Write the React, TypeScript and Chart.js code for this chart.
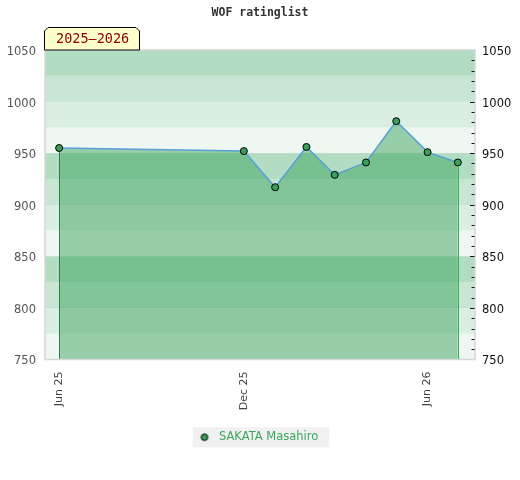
import React, { useEffect, useRef } from "react";
import { Chart, registerables } from "chart.js";

Chart.register(...registerables);

const titleText = "WOF ratinglist";
const seasonText = "2025–2026";
const playerName = "SAKATA Masahiro";
const dates = [
  "2025-06-01",
  "2025-12-01",
  "2026-01-01",
  "2026-02-01",
  "2026-03-01",
  "2026-04-01",
  "2026-05-01",
  "2026-06-01",
  "2026-07-01",
];
const ratings = [955, 952, 917, 956, 929, 941, 981, 951, 941];
const xTickDates = ["2025-06-01", "2025-12-01", "2026-06-01"];
const xTickLabels = ["Jun 25", "Dec 25", "Jun 26"];
const yMin = 750;
const yMax = 1050;

const DAY = 86400000;
const toDay = (s: string) => {
  const [y, m, d] = s.split("-").map(Number);
  return Date.UTC(y, m - 1, d) / DAY;
};

const bandColors = ["#b3ddc3", "#c9e6d4", "#dbeee2", "#eef7f1"];

function makeLegendPoint(): HTMLCanvasElement {
  const c = document.createElement("canvas");
  c.width = 20;
  c.height = 10;
  const g = c.getContext("2d")!;
  g.beginPath();
  g.arc(7, 5, 3.3, 0, Math.PI * 2);
  g.fillStyle = "#3a9f5a";
  g.fill();
  g.lineWidth = 1;
  g.strokeStyle = "#000";
  g.stroke();
  return c;
}

const decorPlugin = {
  id: "decor",
  beforeDraw(chart: any) {
    const { ctx, chartArea, scales } = chart;
    const { left, right } = chartArea;
    const y = scales.y;
    ctx.save();
    for (let v = yMin; v < yMax; v += 25) {
      const idx = ((yMax - v - 25) / 25) % 4;
      const y1 = y.getPixelForValue(v + 25);
      const y2 = y.getPixelForValue(v);
      ctx.fillStyle = bandColors[idx];
      ctx.fillRect(left, y1, right - left, y2 - y1);
    }
    const lg = chart.legend;
    if (lg && lg.legendHitBoxes && lg.legendHitBoxes.length) {
      const hb = lg.legendHitBoxes[0];
      ctx.fillStyle = "#f1f1f1";
      ctx.fillRect(hb.left - 9, hb.top + hb.height / 2 - 10, hb.width + 20, 20);
    }
    ctx.restore();
  },
  afterDatasetsDraw(chart: any) {
    const { ctx, chartArea } = chart;
    const meta = chart.getDatasetMeta(0);
    const pts = meta.data;
    ctx.save();
    if (pts.length) {
      const p0 = pts[0];
      const pn = pts[pts.length - 1];
      ctx.lineWidth = 1;
      ctx.strokeStyle = "#2f7f4c";
      ctx.beginPath();
      ctx.moveTo(Math.round(p0.x) + 0.5, p0.y + 4);
      ctx.lineTo(Math.round(p0.x) + 0.5, chartArea.bottom);
      ctx.stroke();
      ctx.strokeStyle = "#2fb24f";
      ctx.beginPath();
      ctx.moveTo(Math.round(pn.x) + 0.5, pn.y + 4);
      ctx.lineTo(Math.round(pn.x) + 0.5, chartArea.bottom);
      ctx.stroke();
    }
    ctx.restore();
  },
  afterDraw(chart: any) {
    const { ctx, chartArea, scales } = chart;
    const { left, right, top, bottom } = chartArea;
    const y = scales.y;
    ctx.save();
    ctx.strokeStyle = "#d6d6d6";
    ctx.lineWidth = 1.5;
    ctx.strokeRect(left, top, right - left, bottom - top);
    ctx.strokeStyle = "#111";
    ctx.lineWidth = 1;
    for (let v = yMin + 10; v < yMax; v += 10) {
      const py = Math.round(y.getPixelForValue(v)) + 0.5;
      const len = v % 50 === 0 ? 4.5 : 3;
      ctx.beginPath();
      ctx.moveTo(right - len - 0.5, py);
      ctx.lineTo(right - 0.5, py);
      ctx.stroke();
    }
    ctx.fillStyle = "#333";
    ctx.font = 'bold 11.5px "DejaVu Sans Mono"';
    ctx.textAlign = "center";
    ctx.textBaseline = "middle";
    ctx.fillText(titleText, 260, 13);
    const bx0 = left - 1;
    const bx1 = left + 95;
    const by0 = top - 23;
    const c = 4;
    ctx.beginPath();
    ctx.moveTo(bx0 + 0.5, top);
    ctx.lineTo(bx0 + 0.5, by0 + c);
    ctx.lineTo(bx0 + c, by0 + 0.5);
    ctx.lineTo(bx1 - c, by0 + 0.5);
    ctx.lineTo(bx1 - 0.5, by0 + c);
    ctx.lineTo(bx1 - 0.5, top);
    ctx.closePath();
    ctx.fillStyle = "#ffffcc";
    ctx.fill();
    ctx.strokeStyle = "#000";
    ctx.lineWidth = 1;
    ctx.stroke();
    ctx.fillStyle = "#8b0000";
    ctx.font = '13.5px "DejaVu Sans Mono"';
    ctx.textAlign = "left";
    ctx.fillText(seasonText, bx0 + 12, top - 10.5);
    ctx.restore();
  },
};

const plainNum = (v: any) => String(v);

export default function App() {
  const ref = useRef<HTMLCanvasElement>(null);
  useEffect(() => {
    document.body.style.margin = "0";
    const xs = dates.map(toDay);
    const xMin = xs[0] - 14;
    const xMax = xs[xs.length - 1] + 17;
    const tickVals = xTickDates.map(toDay);
    const legendPoint = makeLegendPoint();
    const chart = new Chart(ref.current!, {
      type: "line",
      data: {
        datasets: [
          {
            label: playerName,
            data: xs.map((x, i) => ({ x, y: ratings[i] })),
            borderColor: "#5a9fd8",
            borderWidth: 1.5,
            backgroundColor: "rgba(52,160,88,0.47)",
            fill: "start",
            tension: 0,
            pointRadius: 3.5,
            pointBackgroundColor: "#3a9f5a",
            pointBorderColor: "#000",
            pointBorderWidth: 1,
          },
        ],
      },
      plugins: [decorPlugin],
      options: {
        animation: false,
        responsive: false,
        layout: { padding: { top: 50, left: 0, right: 0, bottom: 27 } },
        plugins: {
          title: { display: false },
          tooltip: { enabled: false },
          legend: {
            position: "bottom",
            labels: {
              usePointStyle: true,
              boxHeight: 5,
              padding: 10,
              color: "#3aa85a",
              font: { family: '"DejaVu Sans"', size: 11.5 },
              generateLabels: () => [
                {
                  text: playerName,
                  pointStyle: legendPoint as any,
                  fillStyle: "#3a9f5a",
                  strokeStyle: "#000",
                  lineWidth: 1,
                  fontColor: "#3aa85a",
                  datasetIndex: 0,
                  hidden: false,
                },
              ],
            },
          },
        },
        scales: {
          x: {
            type: "linear",
            min: xMin,
            max: xMax,
            grid: { display: false, drawTicks: false },
            border: { display: false },
            afterBuildTicks: (scale: any) => {
              scale.ticks = tickVals.map((v) => ({ value: v }));
            },
            afterFit: (scale: any) => {
              scale.height = 62;
            },
            ticks: {
              autoSkip: false,
              minRotation: 90,
              maxRotation: 90,
              padding: 12,
              color: "#444",
              font: { family: '"DejaVu Sans"', size: 11 },
              callback: (value: any) => {
                const i = tickVals.indexOf(Number(value));
                return i >= 0 ? xTickLabels[i] : "";
              },
            },
          },
          y: {
            position: "left",
            min: yMin,
            max: yMax,
            grid: { color: "rgba(0,0,0,0.05)", drawTicks: false },
            border: { display: false },
            afterFit: (scale: any) => {
              scale.width = 45;
            },
            ticks: {
              stepSize: 50,
              padding: 9,
              labelOffset: 2,
              color: "#555",
              font: { family: '"DejaVu Sans"', size: 11.5 },
              callback: plainNum,
            },
          },
          y2: {
            position: "right",
            min: yMin,
            max: yMax,
            grid: { drawOnChartArea: false, drawTicks: false },
            border: { display: false },
            afterFit: (scale: any) => {
              scale.width = 45;
            },
            ticks: {
              stepSize: 50,
              padding: 7,
              labelOffset: 2,
              color: "#111",
              font: { family: '"DejaVu Sans"', size: 11.5 },
              callback: plainNum,
            },
          },
        },
      },
    } as any);
    return () => chart.destroy();
  }, []);
  return (
    <div style={{ width: 520, height: 480 }}>
      <canvas ref={ref} width={520} height={480} />
    </div>
  );
}
